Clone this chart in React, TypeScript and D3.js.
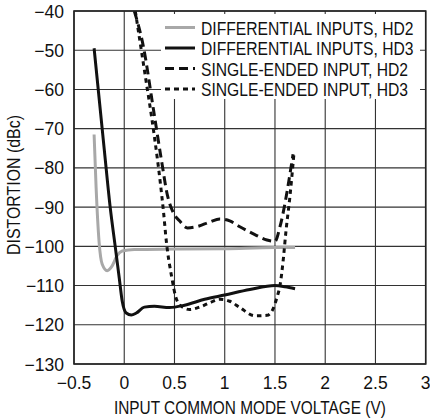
import React from "react";
import * as d3 from "d3";

const xTicks = [-0.5, 0, 0.5, 1, 1.5, 2, 2.5, 3];
const xTickLabels = ["−0.5", "0", "0.5", "1", "1.5", "2", "2.5", "3"];
const yTicks = [-40, -50, -60, -70, -80, -90, -100, -110, -120, -130];
const yTickLabels = ["−40", "−50", "−60", "−70", "−80", "−90", "−100", "−110", "−120", "−130"];

const diffHD2: [number, number][] = [
  [-0.3, -71.5], [-0.28, -85], [-0.25, -99], [-0.22, -104.5], [-0.17, -106.2], [-0.12, -105],
  [-0.07, -102.3], [-0.02, -101.2], [0.1, -100.8], [0.5, -100.7], [1.0, -100.6], [1.5, -100.3], [1.7, -100.3],
];
const diffHD3: [number, number][] = [
  [-0.3, -49.5], [-0.2, -75], [-0.14, -90], [-0.09, -100], [-0.05, -108], [-0.02, -114], [0.02, -117],
  [0.07, -117.5], [0.12, -117], [0.2, -115.5], [0.3, -115.3], [0.45, -115.6], [0.6, -115], [0.8, -113.5],
  [1.0, -112.4], [1.25, -111], [1.5, -110], [1.6, -110.3], [1.7, -110.8],
];
const seHD2: [number, number][] = [
  [0.1, -40], [0.19, -49], [0.29, -65], [0.37, -78], [0.43, -87], [0.49, -91.5], [0.55, -93.5],
  [0.63, -95.3], [0.72, -95], [0.85, -93.8], [0.95, -93], [1.05, -93.5], [1.15, -95], [1.3, -97],
  [1.42, -98.4], [1.5, -98.7], [1.55, -95], [1.6, -89], [1.64, -83], [1.68, -76.5],
];
const seHD3: [number, number][] = [
  [0.11, -40], [0.2, -55], [0.3, -72], [0.36, -84], [0.39, -91], [0.42, -99], [0.47, -107.5],
  [0.52, -113.5], [0.58, -115.5], [0.65, -116.1], [0.75, -115.5], [0.85, -114.4], [0.95, -113.5],
  [1.05, -114], [1.15, -115.6], [1.3, -117.7], [1.42, -117.6], [1.48, -116], [1.52, -113], [1.55, -110],
  [1.58, -104], [1.61, -96], [1.65, -87], [1.69, -76],
];

const legendLabels = [
  "DIFFERENTIAL INPUTS, HD2",
  "DIFFERENTIAL INPUTS, HD3",
  "SINGLE-ENDED INPUT, HD2",
  "SINGLE-ENDED INPUT, HD3",
];

const FONT = "'Liberation Sans', Arial, sans-serif";

function NText(props: { x: number; y: number; s: number; size: number; anchor?: string; rotate?: number; children: React.ReactNode }) {
  const { x, y, s, size, anchor, rotate, children } = props;
  const tr = `translate(${x},${y})${rotate ? ` rotate(${rotate})` : ""} scale(${s},1)`;
  return (
    <text transform={tr} textAnchor={anchor || "start"} fontFamily={FONT} fontSize={size} fill="#111">
      {children}
    </text>
  );
}

export default function App() {
  const L = 74, R = 425.7, T = 11, B = 364;
  const x = d3.scaleLinear().domain([-0.5, 3]).range([L, R]);
  const y = d3.scaleLinear().domain([-130, -40]).range([B, T]);
  const line = d3.line<[number, number]>().x(d => x(d[0])).y(d => y(d[1])).curve(d3.curveMonotoneX);

  const series = [
    { data: diffHD2, stroke: "#a8a8a8", dash: "none" },
    { data: diffHD3, stroke: "#111", dash: "none" },
    { data: seHD2, stroke: "#111", dash: "9,5" },
    { data: seHD3, stroke: "#111", dash: "4.5,4" },
  ];
  const legendDash = ["none", "none", "9,5", "5,4"];
  const legendColor = ["#a8a8a8", "#111", "#111", "#111"];
  const rowY = [27.5, 48, 68.5, 89];

  return (
    <svg width={430} height={419} style={{ position: "absolute", left: 0, top: 0, background: "#fff" }}>
      <defs>
        <clipPath id="plot">
          <rect x={L} y={T} width={R - L} height={B - T} />
        </clipPath>
      </defs>
      <rect x={0} y={0} width={430} height={419} fill="#fff" />
      {xTicks.map(t => (
        <line key={"gx" + t} x1={x(t)} x2={x(t)} y1={T} y2={B} stroke="#333" strokeWidth={1.1} />
      ))}
      {yTicks.map(t => (
        <line key={"gy" + t} x1={L} x2={R} y1={y(t)} y2={y(t)} stroke="#333" strokeWidth={1.1} />
      ))}
      <rect x={161} y={14} width={259} height={85} fill="#fff" />
      <g clipPath="url(#plot)">
        {series.map((s, i) => (
          <path key={i} d={line(s.data) || ""} fill="none" stroke={s.stroke} strokeWidth={3}
            strokeDasharray={s.dash} strokeLinejoin="round" />
        ))}
      </g>
      <rect x={L} y={T} width={R - L} height={B - T} fill="none" stroke="#222" strokeWidth={1.6} />
      {legendLabels.map((lab, i) => (
        <g key={lab}>
          <line x1={165} x2={195} y1={rowY[i]} y2={rowY[i]} stroke={legendColor[i]} strokeWidth={3}
            strokeDasharray={legendDash[i]} />
          <NText x={201} y={rowY[i] + 7} s={0.87} size={18}>{lab}</NText>
        </g>
      ))}
      {yTicks.map((t, i) => (
        <NText key={"yl" + t} x={64} y={y(t) + 6.5} s={1} size={17.5} anchor="end">
          {yTickLabels[i]}
        </NText>
      ))}
      {xTicks.map((t, i) => (
        <NText key={"xl" + t} x={x(t)} y={388.5} s={1} size={17.5} anchor="middle">
          {xTickLabels[i]}
        </NText>
      ))}
      <NText x={(L + R) / 2} y={413.5} s={0.88} size={17.5} anchor="middle">
        INPUT COMMON MODE VOLTAGE (V)
      </NText>
      <NText x={20} y={185} s={0.91} size={17.5} anchor="middle" rotate={-90}>
        DISTORTION (dBc)
      </NText>
    </svg>
  );
}
